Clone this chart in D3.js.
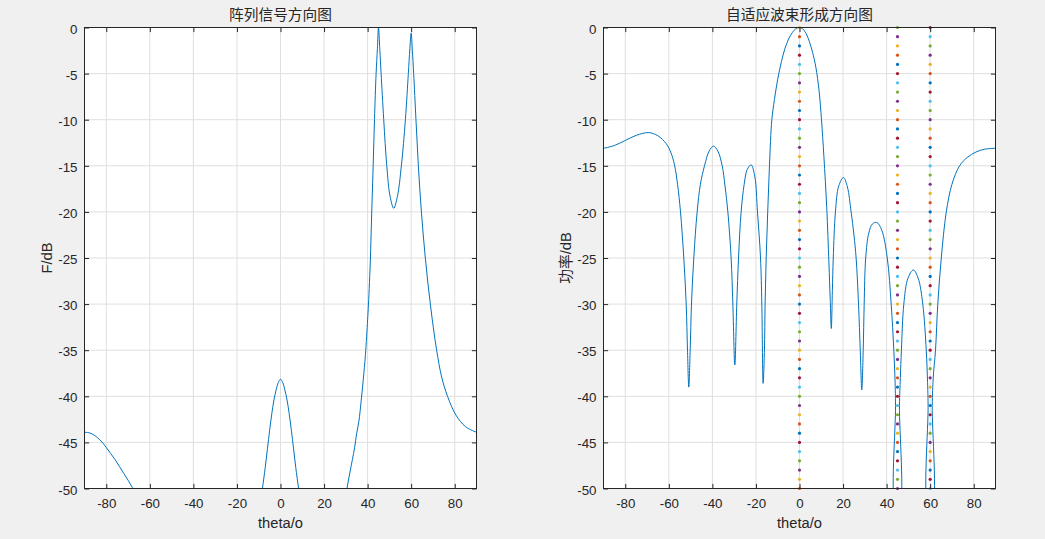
<!DOCTYPE html>
<html><head><meta charset="utf-8">
<script src="https://cdn.jsdelivr.net/npm/d3@7"></script>
<style>
html,body{margin:0;padding:0;background:#f0f0f0;}
svg{display:block;}
</style></head><body>
<svg id="c" width="1045" height="539"></svg>
<script>
// ---- data ----
const xTicks = [-80, -60, -40, -20, 0, 20, 40, 60, 80];
const yTicks = [0, -5, -10, -15, -20, -25, -30, -35, -40, -45, -50];

// 阵列信号方向图 (null = below the plotted range)
const arrayTheta = [-90,-88,-86,-84,-82,-80,-78,-76,-74,-72,-70,-68,-66,-65,
  -9,-8.3,-7,-6,-5,-4,-3,-2,-1,0,1,2,3,4,5,6,7,8.3,9,10,
  29.5,30.5,32,34,35,36,37,38,39,40,40.4,41.3,41.9,42.55,43.15,43.9,44.5,45,45.6,46.2,47.4,48.8,50.3,52,53.7,55.5,57.35,58.7,59.4,60,60.55,61.15,62.2,63.3,64.7,66.5,68.8,71.7,74,76.7,80.6,85,90];
const arrayGain = [-43.9,-43.95,-44.15,-44.5,-44.95,-45.55,-46.2,-46.85,-47.6,-48.35,-49.1,-49.9,-50.7,null,
  -51.2,-50,-47.7,-45.7,-43.7,-41.9,-40.4,-39.3,-38.5,-38.15,-38.5,-39.3,-40.4,-41.9,-43.7,-45.7,-47.7,-50,-51.2,null,
  -51.4,-50,-48.1,-45.6,-44.0,-42.7,-40.6,-38.2,-35.5,-31.7,-30,-25,-20,-15,-10,-5,-2.3,0,-2.4,-5,-10,-15,-18.3,-19.6,-18.3,-15,-10,-5,-2.3,-0.6,-2.5,-5,-10,-15,-20,-25,-30,-35,-37.9,-40,-42.05,-43.3,-43.9];

// 自适应波束形成方向图
const adaptTheta = [-90,-85,-80,-75,-69.2,-65,-61.2,-59,-57.4,-56,-54.64,-53.13,-52.03,-51.43,-50.83,-50.2,-49.6,-48.54,-47,-45.5,-43.62,-41.5,-39.5,-37.5,-35.5,-34.2,-32.9,-31.4,-30.6,-29.7,-28.8,-28,-26.8,-25.4,-24,-22.2,-20.5,-19.3,-17.9,-17.3,-16.7,-16.1,-15.8,-15.3,-14.6,-13.8,-12.7,
  -11.5,-10,-8.3,-6.7,-5,-3.3,-1.6,0,1.5,3,4.5,6,7.5,9,10.1,11.2,12.5,13.5,14.1,14.6,15.1,15.5,16.5,18,20.2,22,23.7,25,26,27.1,27.9,28.6,29.25,29.7,30.4,31.8,33.5,35.5,37.8,40.3,42.1,43.3,43.9,44.1,44.12,45.88,45.9,46.3,46.8,47.9,49.8,52.3,54.5,56.6,58.2,58.8,59.05,59.1,60.9,60.95,61.4,62.45,63.5,65.1,67.4,70,73.5,77,81.1,85,90];
const adaptGain = [-13.1,-12.8,-12.25,-11.7,-11.4,-11.75,-12.6,-13.6,-14.9,-17.0,-20,-25,-30,-35,-39.0,-35,-30,-25,-20,-17.0,-15,-13.4,-12.87,-13.4,-15,-17.2,-20,-25,-30,-36.6,-30,-25,-20,-17,-15.4,-14.9,-16.2,-20,-25,-30,-38.6,-35,-30,-25,-20,-15,-10,
  -7.8,-5.6,-3.7,-2.3,-1.25,-0.55,-0.12,0,-0.15,-0.65,-1.5,-2.7,-4.3,-6.9,-10,-14,-19.5,-25.5,-29.5,-32.65,-28.5,-25,-20,-17.2,-16.27,-17.3,-20,-22.5,-25,-30,-35,-39.3,-35,-30,-25,-22.3,-21.3,-21.15,-22.0,-25,-30,-35,-38.5,-41,-52,-52,-41,-38,-35,-30,-27.2,-26.3,-27.2,-30,-35,-38.5,-41,-52,-52,-41,-38,-35,-30,-25,-20,-17,-15,-14.1,-13.5,-13.2,-13.1];

// dotted marker lines at the source directions
const markerAngles = [0, 45, 60];
const markerLevels = [-50,-49,-48,-47,-46,-45,-44,-43,-42,-41,-40,-39,-38,-37,-36,-35,-34,-33,-32,-31,-30,-29,-28,-27,-26,-25,-24,-23,-22,-21,-20,-19,-18,-17,-16,-15,-14,-13,-12,-11,-10,-9,-8,-7,-6,-5,-4,-3,-2,-1,0];
const colorOrder = ["#0072BD","#D95319","#EDB120","#7E2F8E","#77AC30","#4DBEEE","#A2142F"];

// ---- drawing ----
const svg = d3.select("#c");
svg.append("rect").attr("width",1045).attr("height",539).attr("fill","#f0f0f0");
const FONT = "'Liberation Sans', Arial, Helvetica, 'Noto Sans CJK SC', sans-serif";
const INK = "#262626";
const TOP = 27.5, BOT = 488.5, TICK = 4.6;

function panel(id, x0, x1, title, ylabel, ylabelX, theta, gain, withMarkers) {
  const g = svg.append("g");
  const x = d3.scaleLinear().domain([-90, 90]).range([x0, x1]);
  const y = d3.scaleLinear().domain([-50, 0]).range([BOT, TOP]);

  g.append("rect").attr("x", x0).attr("y", TOP).attr("width", x1 - x0).attr("height", BOT - TOP).attr("fill", "#fff");

  // grid
  g.selectAll(".gx").data(xTicks).enter().append("line")
    .attr("x1", d => x(d)).attr("x2", d => x(d)).attr("y1", TOP).attr("y2", BOT)
    .attr("stroke", "#dfdfdf").attr("stroke-width", 1);
  g.selectAll(".gy").data(yTicks).enter().append("line")
    .attr("y1", d => y(d)).attr("y2", d => y(d)).attr("x1", x0).attr("x2", x1)
    .attr("stroke", "#dfdfdf").attr("stroke-width", 1);

  // clip
  svg.append("clipPath").attr("id", id).append("rect")
    .attr("x", x0).attr("y", TOP).attr("width", x1 - x0).attr("height", BOT - TOP);

  const line = d3.line()
    .defined(i => gain[i] !== null)
    .x(i => x(theta[i])).y(i => y(gain[i]))
    .curve(d3.curveCatmullRom.alpha(0.5));
  g.append("path").attr("clip-path", `url(#${id})`)
    .attr("d", line(d3.range(theta.length)))
    .attr("fill", "none").attr("stroke", "#0072BD").attr("stroke-width", 1);

  if (withMarkers) {
    const pts = [];
    markerAngles.forEach((a, mi) => markerLevels.forEach((lv, j) => {
      const k = 1 + mi * markerLevels.length + j;
      pts.push({a, lv, c: colorOrder[k % colorOrder.length]});
    }));
    g.selectAll(".dot").data(pts).enter().append("circle")
      .attr("cx", d => x(d.a)).attr("cy", d => y(d.lv)).attr("r", 1.6)
      .attr("fill", d => d.c);
  }

  // box
  g.append("rect").attr("x", x0).attr("y", TOP).attr("width", x1 - x0).attr("height", BOT - TOP)
    .attr("fill", "none").attr("stroke", INK).attr("stroke-width", 1);

  const fmt = d => String(d);
  const style = sel => {
    sel.select(".domain").remove();
    sel.selectAll("line").attr("stroke", INK);
    sel.selectAll("text").attr("fill", INK).attr("font-family", FONT).attr("font-size", "13.3px");
  };
  g.append("g").attr("transform", `translate(0,${BOT})`)
    .call(d3.axisBottom(x).tickValues(xTicks).tickSize(-TICK).tickPadding(10.5).tickFormat(fmt)).call(style);
  g.append("g").attr("transform", `translate(0,${TOP})`)
    .call(d3.axisTop(x).tickValues(xTicks).tickSize(-TICK).tickFormat("")).call(style);
  const la = g.append("g").attr("transform", `translate(${x0},0)`)
    .call(d3.axisLeft(y).tickValues(yTicks).tickSize(-TICK).tickPadding(7).tickFormat(fmt)).call(style);
  la.selectAll("text").attr("dy", "0.42em");
  g.append("g").attr("transform", `translate(${x1},0)`)
    .call(d3.axisRight(y).tickValues(yTicks).tickSize(-TICK).tickFormat("")).call(style);

  const cx = (x0 + x1) / 2;
  g.append("text").attr("x", cx).attr("y", 19.5).attr("text-anchor", "middle")
    .attr("font-family", FONT).attr("font-size", "14.7px").attr("fill", INK).text(title);
  g.append("text").attr("x", cx).attr("y", 527.5).attr("text-anchor", "middle")
    .attr("font-family", FONT).attr("font-size", "14.7px").attr("fill", INK).text("theta/o");
  g.append("text").attr("transform", `translate(${ylabelX},${(TOP + BOT) / 2}) rotate(-90)`)
    .attr("text-anchor", "middle").attr("font-family", FONT).attr("font-size", "14.7px")
    .attr("fill", INK).text(ylabel);
}

panel("clipL", 84.5, 476.5, "阵列信号方向图", "F/dB", 51.5, arrayTheta, arrayGain, false);
panel("clipR", 603.5, 995.5, "自适应波束形成方向图", "功率/dB", 571, adaptTheta, adaptGain, true);
</script>
</body></html>
